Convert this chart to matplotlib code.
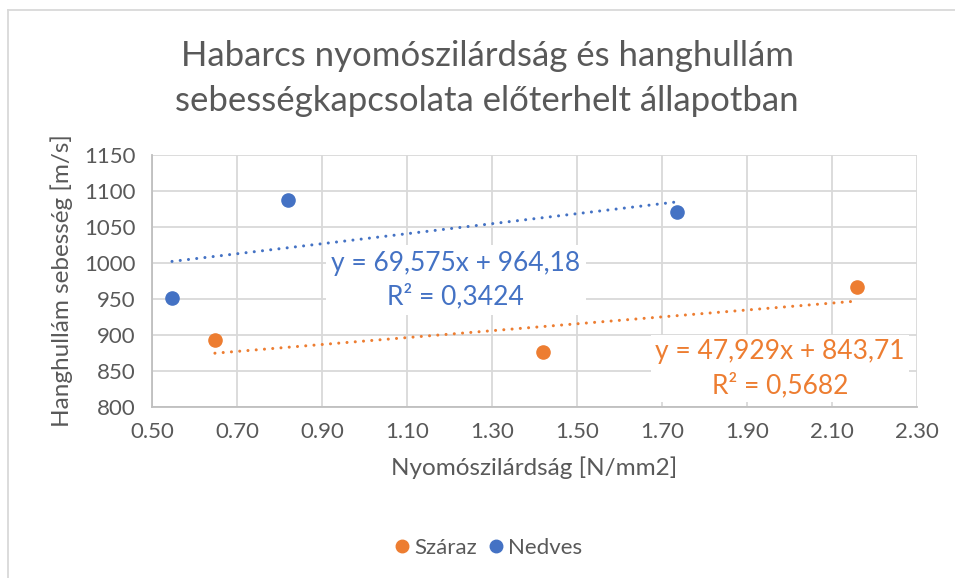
import numpy as np
import matplotlib
matplotlib.use("Agg")
import matplotlib.pyplot as plt
from matplotlib.lines import Line2D

plt.rcParams['font.family'] = ['Lato', 'DejaVu Sans']

# Measured points (strength N/mm2, wave velocity m/s)
szaraz_x = [0.648, 1.420, 2.160]
szaraz_y = [893, 876, 967]
nedves_x = [0.547, 0.821, 1.735]
nedves_y = [951, 1088, 1071]

# Linear trendline coefficients (slope, intercept, R^2)
szaraz_fit = (47.929, 843.71, 0.5682)
nedves_fit = (69.575, 964.18, 0.3424)

x_ticks = [0.50, 0.70, 0.90, 1.10, 1.30, 1.50, 1.70, 1.90, 2.10, 2.30]
y_ticks = [800, 850, 900, 950, 1000, 1050, 1100, 1150]

ORANGE = '#ED7D31'
BLUE = '#4472C4'
GRID = '#D9D9D9'
TXT = '#595959'

fig = plt.figure(figsize=(9.55, 5.78), dpi=100)
ax = fig.add_axes([0.1592, 0.2958, 0.8010, 0.4360])

ax.set_xlim(x_ticks[0], x_ticks[-1])
ax.set_ylim(y_ticks[0], y_ticks[-1])
ax.set_xticks(x_ticks)
ax.set_xticklabels([f"{t:.2f}" for t in x_ticks])
ax.set_yticks(y_ticks)
ax.grid(True, color=GRID, linewidth=1.3, zorder=0)
ax.set_axisbelow(True)
for side in ['top', 'right']:
    ax.spines[side].set_visible(False)
for side in ['left', 'bottom']:
    ax.spines[side].set_color('#BFBFBF')
    ax.spines[side].set_linewidth(1.3)
    ax.spines[side].set_zorder(5)
ax.tick_params(length=0, labelsize=16, labelcolor=TXT)
ax.tick_params(axis='x', pad=11)
ax.tick_params(axis='y', pad=12)


def trend(xs, fit, color):
    t = np.array([min(xs), max(xs)])
    ax.plot(t, fit[0] * t + fit[1], color=color, linewidth=2.2,
            linestyle=(0, (0.01, 2.7)), dash_capstyle='round', zorder=2)


trend(szaraz_x, szaraz_fit, ORANGE)
trend(nedves_x, nedves_fit, BLUE)

ax.scatter(szaraz_x, szaraz_y, s=90, color=ORANGE, zorder=4, label='Száraz')
ax.scatter(nedves_x, nedves_y, s=90, color=BLUE, zorder=4, label='Nedves')


def eq_text(fit):
    a = f"{fit[0]:.3f}".replace('.', ',')
    b = f"{fit[1]:.2f}".replace('.', ',')
    r = f"{fit[2]:.4f}".replace('.', ',')
    return f"y = {a}x + {b}\nR² = {r}"


ax.text(0.397, 0.504, eq_text(nedves_fit), transform=ax.transAxes,
        ha='center', va='center', fontsize=19, color=BLUE,
        linespacing=1.4, zorder=3,
        bbox=dict(facecolor='white', edgecolor='none', pad=4))
ax.text(0.821, 0.152, eq_text(szaraz_fit), transform=ax.transAxes,
        ha='center', va='center', fontsize=19, color=ORANGE,
        linespacing=1.4, zorder=3,
        bbox=dict(facecolor='white', edgecolor='none', pad=3))

ax.set_xlabel('Nyomószilárdság [N/mm2]', fontsize=17.5, color=TXT, labelpad=10)
ax.set_ylabel('Hanghullám sebesség [m/s]', fontsize=17.5, color=TXT, labelpad=8)

fig.text(0.51, 0.903, 'Habarcs nyomószilárdság és hanghullám',
         ha='center', va='center', fontsize=25, color=TXT)
fig.text(0.51, 0.825, 'sebességkapcsolata előterhelt állapotban',
         ha='center', va='center', fontsize=25, color=TXT)

handles = [Line2D([], [], marker='o', linestyle='none', color=c,
                  markersize=9) for c in (ORANGE, BLUE)]
fig.legend(handles, ['Száraz', 'Nedves'], loc='center',
           bbox_to_anchor=(0.504, 0.052), ncol=2, frameon=False,
           fontsize=16, labelcolor=TXT, handletextpad=-0.45,
           columnspacing=-0.15)

# chart frame
fig.add_artist(Line2D([0.008, 0.008], [0.0, 0.982], color='#D9D9D9',
                      linewidth=1.3, transform=fig.transFigure))
fig.add_artist(Line2D([0.008, 1.0], [0.982, 0.982], color='#D9D9D9',
                      linewidth=1.3, transform=fig.transFigure))

fig.savefig('out.png', dpi=100)
